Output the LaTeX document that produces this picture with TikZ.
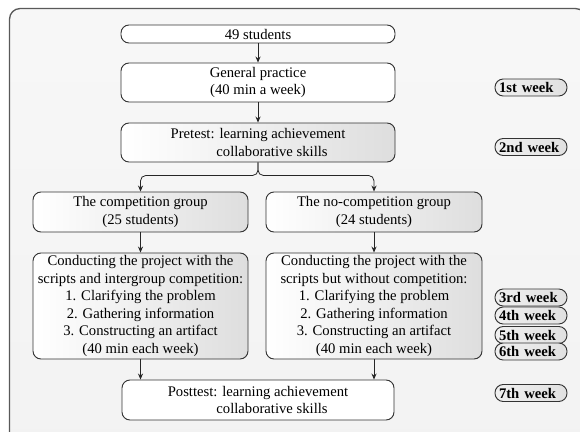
\documentclass[tikz,border=0pt]{standalone}
\usepackage{fontspec}
\setmainfont{Liberation Serif}
\usetikzlibrary{arrows.meta}
\begin{document}
\begin{tikzpicture}[x=0.75pt,y=-0.75pt,
  box/.style={draw=black!80, line width=0.7pt, rounded corners=6pt, inner sep=0pt, align=center, font=\fontsize{11}{13.1}\selectfont},
  plainbox/.style={box, fill=white},
  gradbox/.style={box, left color=white, right color=black!13},
  pill/.style={draw=black!80, line width=0.7pt, rounded corners=6.2pt, left color=black!6, right color=black!12, minimum width=54pt, minimum height=12.75pt, inner xsep=3pt, inner ysep=0pt, text width=48pt, align=left, font=\fontsize{11}{12}\selectfont\bfseries},
  arr/.style={-{Stealth[length=4.5pt,width=3.8pt]}, line width=0.6pt, draw=black!85},
  brace/.style={arr, rounded corners=4pt}
]
\useasboundingbox (0,0) rectangle (580,431);
\clip (0,0) rectangle (580,431);
\draw[draw=black!65, line width=1pt, rounded corners=8pt, top color=black!3, bottom color=black!5] (9.5,8.5) rectangle (586,450);

\node[plainbox, minimum width=205.5pt, minimum height=13.5pt] (n49) at (258,34) {49 students};
\node[plainbox, minimum width=205.5pt, minimum height=29.25pt] (gp) at (258,82.5) {General practice\\(40 min a week)};
\node[gradbox, minimum width=205.5pt, minimum height=29.25pt] (pre) at (258,142.5) {Pretest: learning achievement\\\hspace*{21pt}collaborative skills};
\node[gradbox, minimum width=161.25pt, minimum height=30pt] (comp) at (140.5,212) {The competition group\\(25 students)};
\node[gradbox, minimum width=162pt, minimum height=30pt] (nocomp) at (374,212) {The no-competition group\\(24 students)};
\node[gradbox, minimum width=161.25pt, minimum height=79.5pt] (condL) at (140.5,306) {Conducting the project with the\\scripts and intergroup competition:\\1. Clarifying the problem\\2. Gathering information\\3. Constructing an artifact\\(40 min each week)};
\node[gradbox, minimum width=162pt, minimum height=79.5pt] (condR) at (374,306) {Conducting the project with the\\scripts but without competition:\\1. Clarifying the problem\\2. Gathering information\\3. Constructing an artifact\\(40 min each week)};
\node[plainbox, minimum width=204pt, minimum height=30pt] (post) at (258,400) {Posttest: learning achievement\\\hspace*{21pt}collaborative skills};

\node[pill] (w1) at (531,87.5) {1st week};
\node[pill] (w2) at (531,147) {2nd week};
\node[pill] (w3) at (531,297.5) {3rd week};
\node[pill] (w4) at (531,315.5) {4th week};
\node[pill] (w5) at (531,335) {5th week};
\node[pill] (w6) at (531,351.5) {6th week};
\node[pill] (w7) at (531,393) {7th week};

\draw[arr] (n49) -- (gp);
\draw[arr] (gp) -- (pre);
\draw[brace] (pre.south) -- ++(0,13) -| (comp.north);
\draw[brace] (pre.south) -- ++(0,13) -| (nocomp.north);
\draw[arr] (comp) -- (condL);
\draw[arr] (nocomp) -- (condR);
\draw[arr] (condL.south) -- (condL.south |- post.north);
\draw[arr] (condR.south) -- (condR.south |- post.north);
\end{tikzpicture}
\end{document}
